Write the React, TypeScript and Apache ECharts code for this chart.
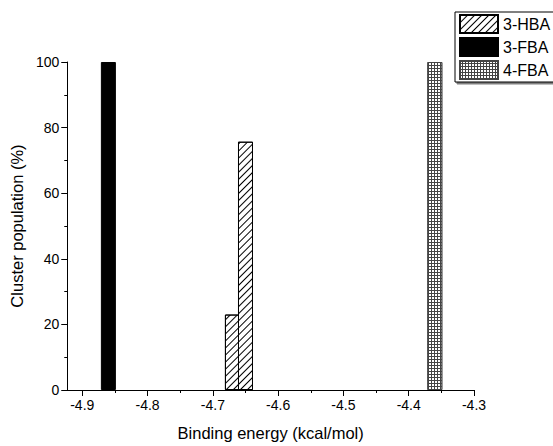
import React, { useEffect, useRef } from "react";
import * as echarts from "echarts";

const seriesNames = ["3-HBA", "3-FBA", "4-FBA"];
const hbaData: [number, number][] = [[-4.67, 23], [-4.65, 75.7]];
const fbaData: [number, number][] = [[-4.86, 100]];
const fba4Data: [number, number][] = [[-4.36, 100]];
const xMajorTicks = [-4.9, -4.8, -4.7, -4.6, -4.5, -4.4, -4.3];
const xMinorTicks = [-4.85, -4.75, -4.65, -4.55, -4.45, -4.35];

const FONT = "'Liberation Sans', Arial, sans-serif";

export default function App() {
  const ref = useRef<HTMLDivElement>(null);
  useEffect(() => {
    if (!ref.current) return;
    const chart = echarts.init(ref.current, undefined, { renderer: "svg" });
    const hatch = {
      symbol: "rect",
      symbolSize: 1,
      color: "#000",
      dashArrayX: [1, 0],
      dashArrayY: [1, 4],
      rotation: -Math.PI / 4,
    };
    const grid = {
      symbol: "rect",
      symbolSize: 1,
      color: "#fff",
      dashArrayX: [2, 1],
      dashArrayY: [2, 1],
      rotation: 0,
    };
    chart.setOption({
      animation: false,
      backgroundColor: "#fff",
      textStyle: { fontFamily: FONT, color: "#000" },
      grid: { left: 63, top: 62, width: 411, height: 332, containLabel: false },
      legend: {
        orient: "vertical",
        left: 455,
        top: 12,
        padding: [2, 12, 2, 4],
        itemWidth: 38,
        itemHeight: 18,
        itemGap: 3,
        itemTextGap: 4,
        icon: "rect",
        borderColor: "#000",
        borderWidth: 1,
        shadowColor: "rgba(0,0,0,0.5)",
        shadowOffsetX: 2,
        shadowOffsetY: 2,
        shadowBlur: 0,
        backgroundColor: "#fff",
        textStyle: { fontFamily: FONT, fontSize: 16, color: "#000" },
        data: seriesNames,
      },
      xAxis: [
        {
          type: "value",
          min: -4.923,
          max: -4.3,
          name: "Binding energy (kcal/mol)",
          nameLocation: "middle",
          nameGap: 34,
          nameTextStyle: { fontFamily: FONT, fontSize: 16.5, color: "#000" },
          axisLine: { show: true, onZero: false, lineStyle: { color: "#000", width: 1 } },
          axisTick: { show: true, inside: false, length: 6, customValues: xMajorTicks, lineStyle: { color: "#000" } },
          axisLabel: {
            show: true,
            customValues: xMajorTicks,
            fontFamily: FONT,
            fontSize: 14,
            color: "#000",
            margin: 8,
            formatter: (v: number) => v.toFixed(1),
          },
          splitLine: { show: false },
        },
        {
          type: "value",
          min: -4.923,
          max: -4.3,
          position: "bottom",
          axisLine: { show: false },
          axisTick: { show: true, inside: false, length: 3, customValues: xMinorTicks, lineStyle: { color: "#000" } },
          axisLabel: { show: false },
          splitLine: { show: false },
        },
      ],
      yAxis: {
        type: "value",
        min: 0,
        max: 100,
        interval: 20,
        name: "Cluster population (%)",
        nameLocation: "middle",
        nameGap: 38,
        nameTextStyle: { fontFamily: FONT, fontSize: 16.5, color: "#000" },
        axisLine: { show: true, lineStyle: { color: "#000", width: 1 } },
        axisTick: { show: true, inside: false, length: 6, lineStyle: { color: "#000" } },
        minorTick: { show: true, splitNumber: 2, length: 3, lineStyle: { color: "#000" } },
        axisLabel: { fontFamily: FONT, fontSize: 14, color: "#000", margin: 8 },
        splitLine: { show: false },
      },
      series: [
        {
          name: seriesNames[0],
          type: "bar",
          xAxisIndex: 0,
          data: hbaData,
          barWidth: 15,
          barGap: "-100%",
          itemStyle: { color: "#fff", borderColor: "#000", borderWidth: 1, decal: hatch },
        },
        {
          name: seriesNames[1],
          type: "bar",
          xAxisIndex: 0,
          data: fbaData,
          barWidth: 15,
          barGap: "-100%",
          itemStyle: { color: "#000", borderColor: "#000", borderWidth: 1 },
        },
        {
          name: seriesNames[2],
          type: "bar",
          xAxisIndex: 0,
          data: fba4Data,
          barWidth: 15,
          barGap: "-100%",
          itemStyle: { color: "#444", borderColor: "#444", borderWidth: 1, decal: grid },
        },
      ],
    });
    return () => chart.dispose();
  }, []);
  return (
    <div
      ref={ref}
      style={{ position: "fixed", left: 0, top: 0, width: 553, height: 446 }}
    />
  );
}
